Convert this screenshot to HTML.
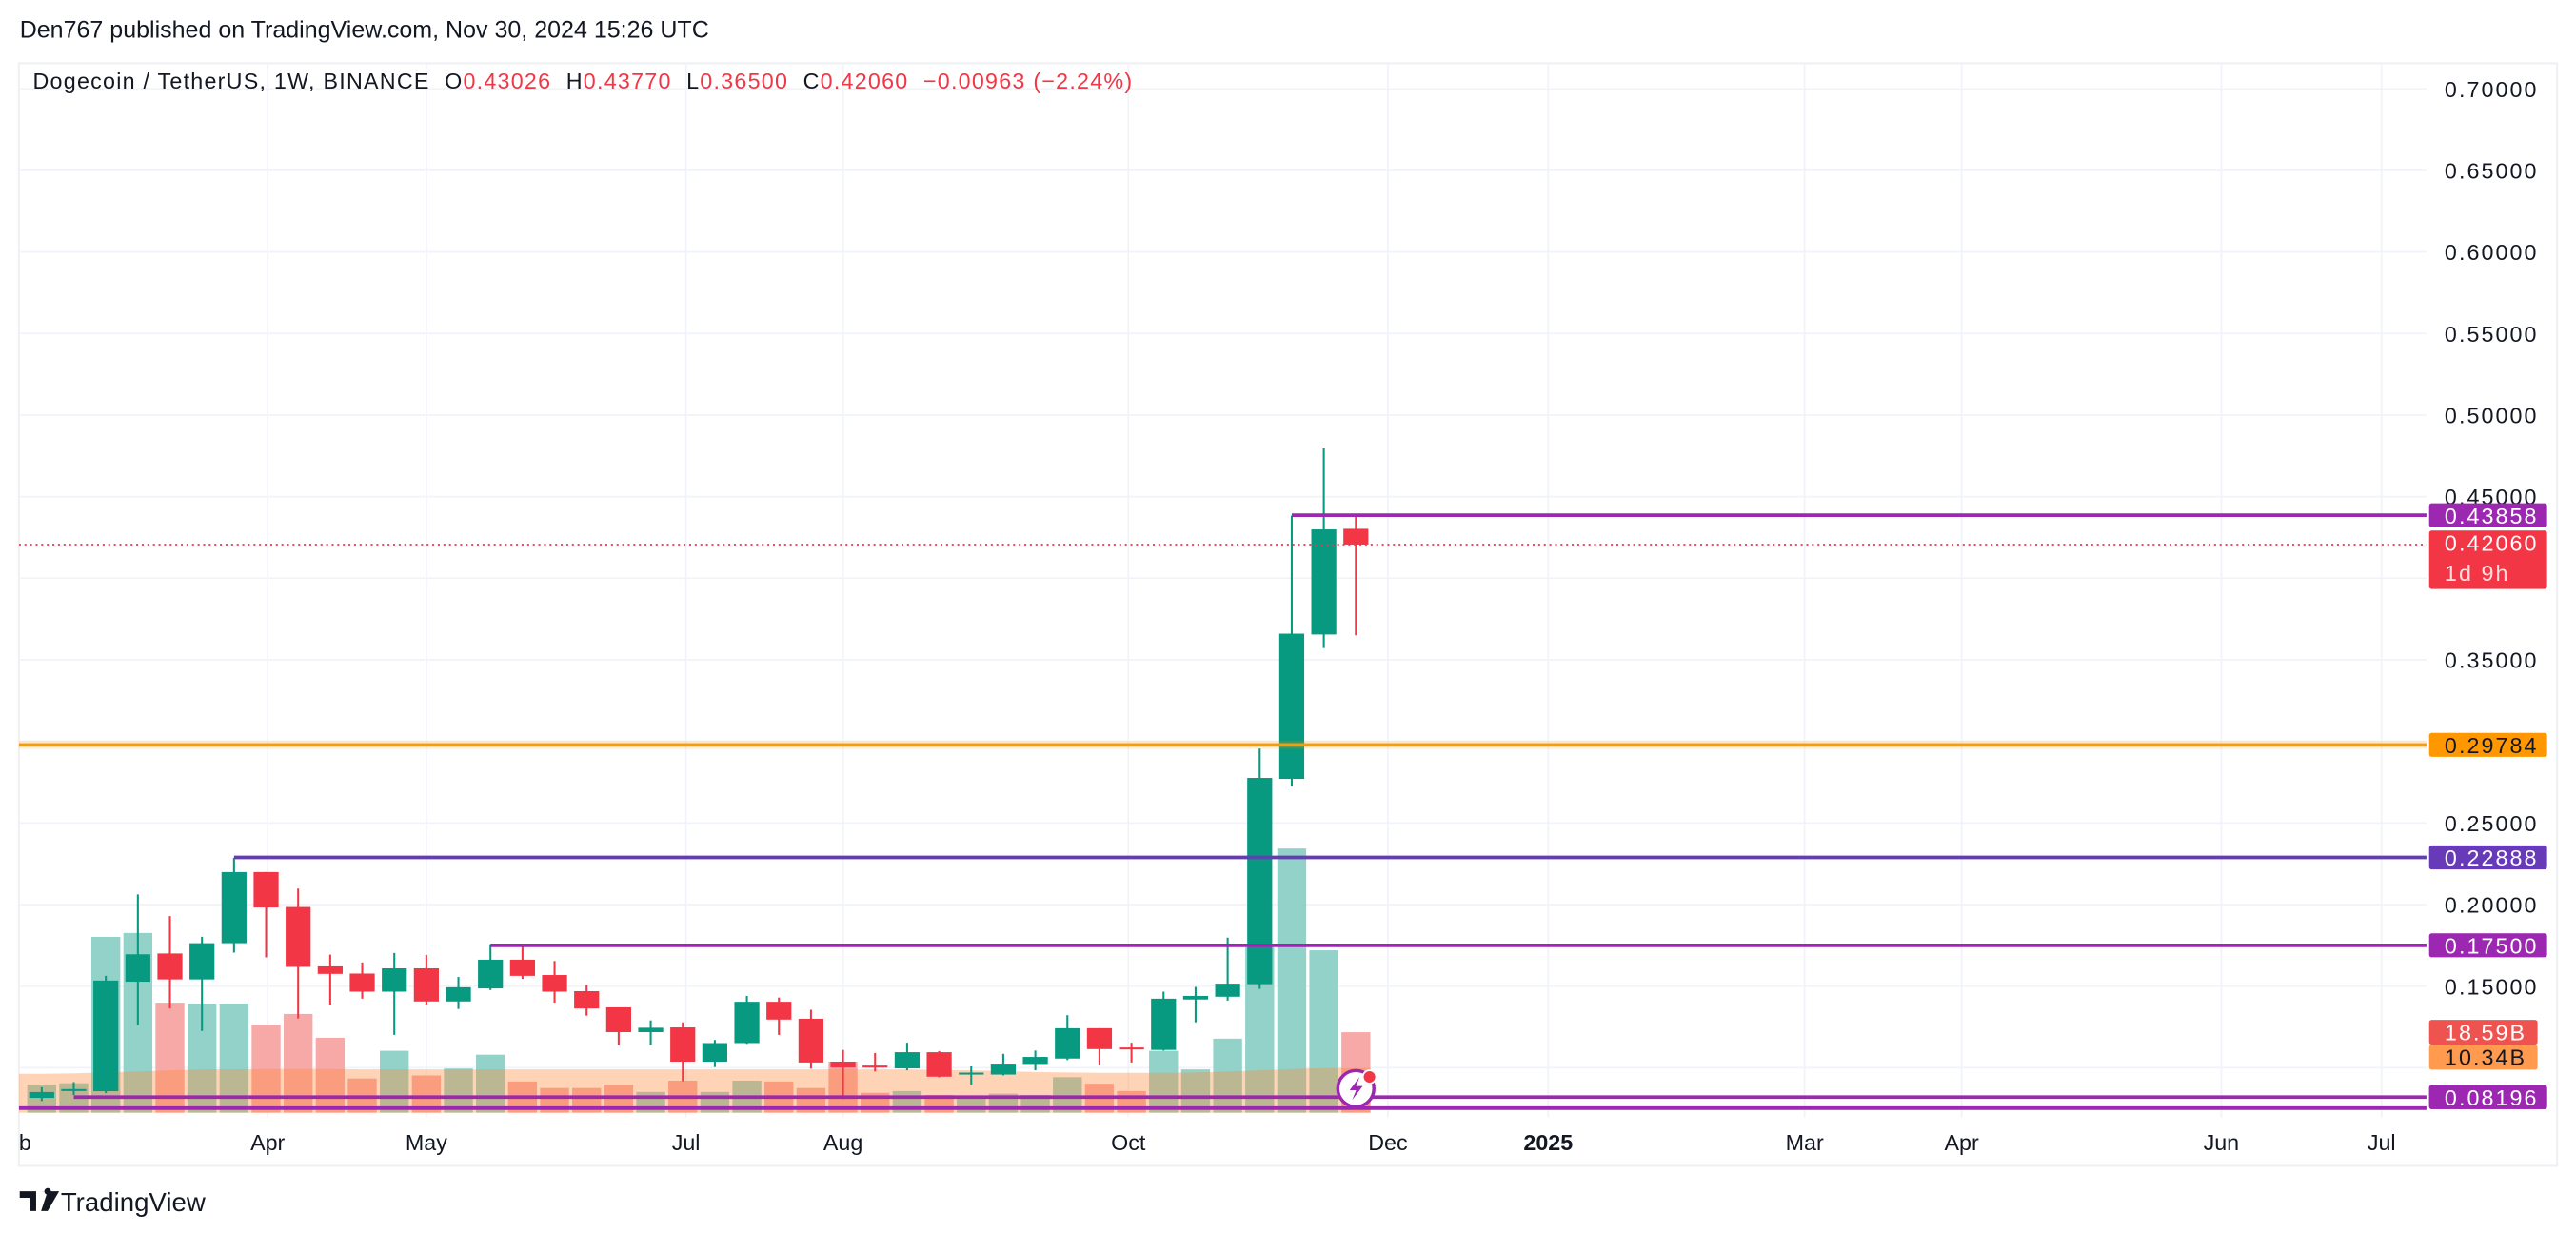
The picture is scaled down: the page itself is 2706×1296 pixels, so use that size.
<!DOCTYPE html>
<html><head><meta charset="utf-8"><title>DOGEUSDT 1W chart</title>
<style>
html,body{margin:0;padding:0;background:#fff;}
svg{display:block;font-family:"Liberation Sans",sans-serif;}
</style></head>
<body>
<svg id="chart" width="2706" height="1296" viewBox="0 0 1568 751" preserveAspectRatio="none" xmlns="http://www.w3.org/2000/svg">
  <rect x="0" y="0" width="1568" height="751" fill="#ffffff"/>
  <text x="12" y="23" font-size="14.5" fill="#131722">Den767 published on TradingView.com, Nov 30, 2024 15:26 UTC</text>
  <rect x="11.5" y="38.5" width="1545" height="671" fill="none" stroke="#eef0f3" stroke-width="1.2"/>
  <g id="grid"></g>
  <g id="volume"></g>
  <g id="candles"></g>
  <g id="levels"></g>
  <g id="yaxis" letter-spacing="1.2"></g>
  <g id="xaxis"></g>
  <text x="20" y="54" font-size="13.5" letter-spacing="0.72" fill="#131722" xml:space="preserve">Dogecoin / TetherUS, 1W, BINANCE  O<tspan fill="#f23645">0.43026</tspan>  H<tspan fill="#f23645">0.43770</tspan>  L<tspan fill="#f23645">0.36500</tspan>  C<tspan fill="#f23645">0.42060</tspan>  <tspan fill="#f23645">−0.00963 (−2.24%)</tspan></text>
  <g>
    <circle cx="825.3" cy="662.5" r="11" fill="#fff" stroke="#9c27b0" stroke-width="2"/>
    <path d="M827.5 655.5 L821.5 663.5 L825.5 663.5 L823 669.5 L829.5 661 L825.5 661 Z" fill="#9c27b0"/>
    <circle cx="833.6" cy="655.4" r="4" fill="#f23645" stroke="#fff" stroke-width="1"/>
  </g>
  <g>
    <path d="M12 725 h10 v12 h-4 v-8 h-6 z M24 725 h3 a2 2 0 1 1 0 .1 z M29 725 h7 l-7 12 h-4 z" fill="#131722"/>
    <text x="37" y="737" font-size="16" fill="#131722">TradingView</text>
  </g>
</svg>
<script>
// ---- data ----
const opens  = [0.0815,0.0862,0.0856,0.1527,0.1700,0.1541,0.1763,0.2199,0.1985,0.1621,0.1577,0.1466,0.1609,0.1406,0.1486,0.1662,0.1568,0.1469,0.1370,0.1218,0.1247,0.1037,0.1151,0.1404,0.1300,0.1037,0.1013,0.0996,0.1095,0.0960,0.0958,0.1023,0.1056,0.1242,0.1124,0.1109,0.1418,0.1435,0.1512,0.2770,0.3655,0.43026];
const highs  = [0.0880,0.0912,0.1563,0.2062,0.1929,0.1802,0.2286,0.2199,0.2098,0.1693,0.1645,0.1703,0.1691,0.1556,0.1756,0.1741,0.1654,0.1507,0.1370,0.1290,0.1278,0.1170,0.1440,0.1430,0.1355,0.1109,0.1090,0.1153,0.1102,0.1008,0.1085,0.1105,0.1322,0.1242,0.1153,0.1466,0.1495,0.1797,0.2956,0.4383,0.4796,0.43770];
const lows   = [0.0796,0.0832,0.0844,0.1261,0.1363,0.1225,0.1705,0.1676,0.1302,0.1387,0.1423,0.1201,0.1387,0.1360,0.1476,0.1544,0.1399,0.1319,0.1138,0.1138,0.0917,0.1004,0.1146,0.1201,0.0994,0.0808,0.0977,0.0984,0.0941,0.0892,0.0953,0.0984,0.1047,0.1018,0.1032,0.1105,0.1278,0.1411,0.1483,0.2723,0.3572,0.36500];
const closes = [0.0851,0.0869,0.1534,0.1695,0.1541,0.1763,0.2199,0.1982,0.1618,0.1575,0.1466,0.1609,0.1406,0.1493,0.1662,0.1563,0.1466,0.1363,0.1218,0.1245,0.1037,0.1151,0.1404,0.1295,0.1032,0.1001,0.1004,0.1095,0.0945,0.0970,0.1025,0.1066,0.1242,0.1114,0.1114,0.1423,0.1440,0.1515,0.2776,0.3660,0.4299,0.42060];
const volumes= [6.5,6.8,40.6,41.5,25.4,25.2,25.2,20.3,22.8,17.3,7.9,14.3,8.6,10.2,13.4,7.2,5.7,5.7,6.5,4.8,7.4,4.8,7.4,7.2,5.7,11.8,4.6,5.0,4.1,3.2,4.4,4.1,8.2,6.7,5.0,14.3,10.0,17.1,38.2,61.0,37.5,18.59];
const volMA  = [9.0,9.1,9.3,9.5,9.8,10.0,10.0,10.1,10.1,10.1,10.0,10.0,10.0,10.0,10.0,10.0,10.0,10.0,10.0,10.0,10.0,10.0,10.0,10.0,10.0,10.0,10.0,10.0,9.9,9.8,9.6,9.4,9.3,9.2,9.2,9.2,9.3,9.5,9.8,10.1,10.3,10.34];
const priceTicks = [0.70,0.65,0.60,0.55,0.50,0.45,0.35,0.25,0.20,0.15];
const gridPrices = [0.70,0.65,0.60,0.55,0.50,0.45,0.40,0.35,0.30,0.25,0.20,0.15,0.10];
const timeLabels = ["b","Apr","May","Jul","Aug","Oct","Dec","2025","Mar","Apr","Jun","Jul"];
const timeIndex  = [-0.7,7.05,12.0,20.1,25.0,33.9,42.0,47.0,55.0,59.9,68.0,73.0];
const levelValues= [0.43858,0.29784,0.22888,0.17500,0.08196];
const levelStart = [39,-2,6,14,1];
const levelColors= ["#9c27b0","#f59e0b","#673ab7","#9c27b0","#9c27b0"];
const lastPrice = 0.42060;

// ---- scales ----
const PLOT_L=11.5, PLOT_R=1477, PLOT_T=38.5, VOL_BASE=677.2;
function xAt(i){return 25.4+19.51*i;}
function yAt(p){return 54+(0.70-p)*993;}
function vH(v){return v*2.636;}
const NS="http://www.w3.org/2000/svg";
function mk(tag,attrs,parent){const e=document.createElementNS(NS,tag);for(const k in attrs)e.setAttribute(k,attrs[k]);parent.appendChild(e);return e;}
const grid=document.getElementById('grid'), vol=document.getElementById('volume'), cg=document.getElementById('candles'), lv=document.getElementById('levels'), ya=document.getElementById('yaxis'), xa=document.getElementById('xaxis');

const defs=mk('defs',{},document.getElementById('chart'));
const cp=mk('clipPath',{id:'plotclip'},defs);
mk('rect',{x:PLOT_L,y:PLOT_T,width:PLOT_R-PLOT_L,height:642},cp);
vol.setAttribute('clip-path','url(#plotclip)');cg.setAttribute('clip-path','url(#plotclip)');lv.setAttribute('clip-path','url(#plotclip)');

gridPrices.forEach(p=>{
  const l=mk('line',{x1:PLOT_L,x2:PLOT_R,y1:yAt(p),y2:yAt(p),stroke:'#f0f3fa','stroke-width':1},grid);
  
  
});
timeIndex.forEach((ti,k)=>{
  if(k===0)return;
  const l=mk('line',{x1:xAt(ti),x2:xAt(ti),y1:PLOT_T,y2:680,stroke:'#f0f3fa','stroke-width':1},grid);
  
  
});

volumes.forEach((v,i)=>{
  const up=closes[i]>=opens[i];
  const h=vH(v);
  const r=mk('rect',{x:xAt(i)-8.8,y:VOL_BASE-h,width:17.6,height:h,fill:up?'#92d2c9':'#f7a9a7'},vol);
  
  
});
let d='M'+PLOT_L+' '+(VOL_BASE-vH(volMA[0]));
volMA.forEach((m,i)=>{d+=' L'+xAt(i)+' '+(VOL_BASE-vH(m));});
d+=' L'+(xAt(volMA.length-1)+9)+' '+(VOL_BASE-vH(volMA[volMA.length-1]))+' L'+(xAt(volMA.length-1)+9)+' '+VOL_BASE+' L'+PLOT_L+' '+VOL_BASE+' Z';
const area=mk('path',{d:d,fill:'rgba(255,140,60,0.38)'},vol);



const lp=mk('line',{x1:PLOT_L,x2:PLOT_R,y1:yAt(lastPrice),y2:yAt(lastPrice),stroke:'#f23645','stroke-width':1,'stroke-dasharray':'1.2 2.2'},lv);



opens.forEach((o,i)=>{
  const c=closes[i], up=c>=o, col=up?'#089981':'#f23645', x=xAt(i);
  const g=mk('g',{},cg);
  
  
  mk('line',{x1:x,x2:x,y1:yAt(highs[i]),y2:yAt(lows[i]),stroke:col,'stroke-width':1.2},g);
  const top=yAt(Math.max(o,c)), bot=yAt(Math.min(o,c));
  mk('rect',{x:x-7.6,y:top,width:15.2,height:Math.max(bot-top,1.2),fill:col},g);
});

levelValues.forEach((v,k)=>{
  const l=mk('line',{x1:Math.max(PLOT_L,xAt(levelStart[k])),x2:PLOT_R,y1:yAt(v),y2:yAt(v),stroke:levelColors[k],'stroke-width':2.2},lv);
  
  
});
const l2=mk('line',{x1:PLOT_L,x2:PLOT_R,y1:674.4,y2:674.4,stroke:'#9c27b0','stroke-width':2.2},lv);


const orangeGlow=mk('line',{x1:PLOT_L,x2:PLOT_R,y1:yAt(0.29784),y2:yAt(0.29784),stroke:'rgba(245,158,11,0.15)','stroke-width':5},lv);



priceTicks.forEach(p=>{
  const t=mk('text',{x:1488,y:yAt(p)+5,'font-size':13.5,fill:'#131722'},ya);
  t.textContent=p.toFixed(5);
  
  
});
function tag(y,h,bg,fg,txt,w,name){
  const g=mk('g',{},ya);
  
  
  mk('rect',{x:1478.6,y:y,width:w,height:h,rx:1.5,fill:bg},g);
  const t=mk('text',{x:1488,y:y+12.3,'font-size':13.5,fill:fg},g);
  t.textContent=txt;
  return g;
}
levelValues.forEach((v,k)=>{
  const fg=k===1?'#131722':'#ffffff';
  tag(yAt(v)-7.3,14.6,levelColors[k]==='#f59e0b'?'#ff9800':levelColors[k],fg,v.toFixed(5),71.8,'level-price-tag');
});
const lt=tag(yAt(lastPrice)-8.5,35.5,'#f23645','#fff',lastPrice.toFixed(5),71.8,'last-price-tag');
const lt2=mk('text',{x:1488,y:yAt(lastPrice)+22,'font-size':13.5,fill:'#fdd'},lt);
lt2.textContent='1d 9h';
tag(VOL_BASE-vH(volumes[volumes.length-1])-7.5,15,'#ef5350','#ffffff',volumes[volumes.length-1].toFixed(2)+'B',66,'volume-tag');
tag(VOL_BASE-vH(volMA[volMA.length-1])-14,15,'#ff9a4f','#131722',volMA[volMA.length-1].toFixed(2)+'B',66,'volume-ma-tag');
tag(yAt(0.08196)-7.3,14.6,'#9c27b0','#ffffff','0.08196',71.8,'bottom-level-tag');

timeLabels.forEach((s,k)=>{
  const t=mk('text',{x:k===0?11.5:xAt(timeIndex[k]),y:700,'font-size':13.5,fill:'#131722','text-anchor':k===0?'start':'middle','font-weight':s==='2025'?'bold':'normal'},xa);
  t.textContent=s;
  
  
});
</script>
</body></html>
